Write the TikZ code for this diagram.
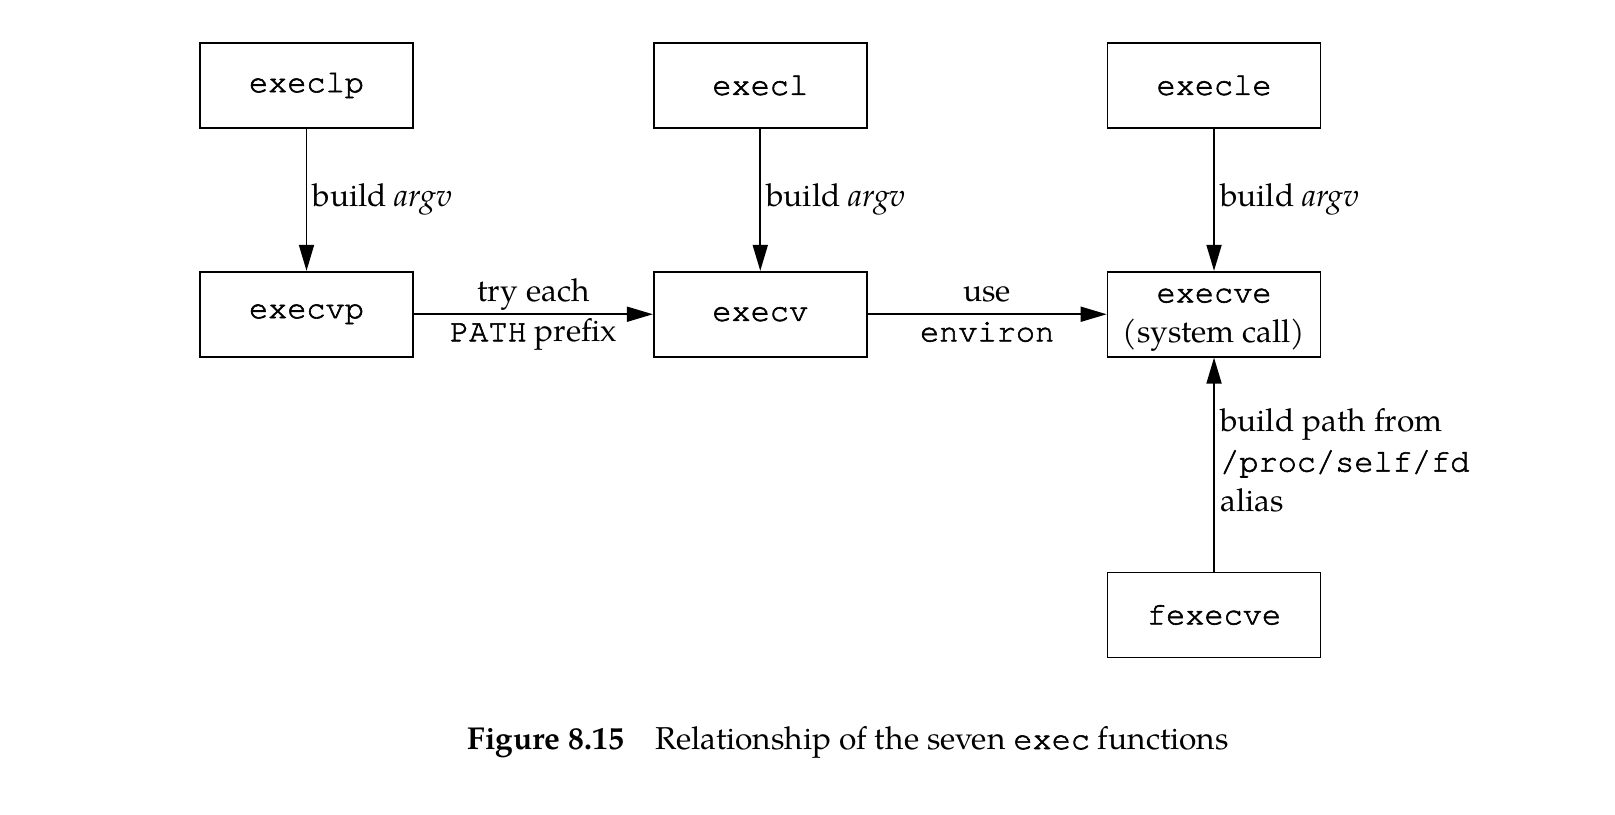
\documentclass[tikz,border=0pt]{standalone}
\usepackage{fontspec}
\setmainfont{texgyrepagella}[Extension=.otf, UprightFont=*-regular, BoldFont=*-bold, ItalicFont=*-italic, BoldItalicFont=*-bolditalic]
\setmonofont{texgyrecursor}[Extension=.otf, UprightFont=*-regular, Scale=1.01, FakeBold=1.8]
\usepackage{tikz}
\usetikzlibrary{positioning,arrows.meta}

\tikzset{
    fn/.style={draw, line width=0.5pt, minimum width=2.13cm, minimum height=0.85cm, inner sep=0pt, font=\fontsize{9}{11.4}\selectfont\ttfamily},
    conn/.style={-{Triangle[length=2.6mm,width=1.5mm]}, line width=0.5pt},
    lbl/.style={right, inner xsep=1.5pt}
}

\begin{document}
\begin{tikzpicture}[node distance=1cm, font=\fontsize{9}{11.4}\selectfont]
    \useasboundingbox (0,0) rectangle (16.15,8.15);

    \node [fn] (execlp) at (3.065,7.295) {execlp};
    \node [fn, right=2.39cm of execlp] (execl) {execl};
    \node [fn, right=2.39cm of execl] (execle) {execle};
    \node [fn, below=1.42cm of execlp] (execvp) {execvp};
    \node [fn, below=1.42cm of execl] (execv) {execv};
    \node [fn, below=1.42cm of execle, align=center] (execve) {\rule{0pt}{7.2pt}execve\\\rmfamily(system call)};
    \node [fn, below=2.14cm of execve] (fexecve) {fexecve};

    \draw [conn] (execlp) -- node [lbl] {build \textit{argv}} (execvp);
    \draw [conn] (execl) -- node [lbl] {build \textit{argv}} (execv);
    \draw [conn] (execle) -- node [lbl] {build \textit{argv}} (execve);
    \draw [conn] (execvp) -- node [align=center] {try each\\\texttt{PATH} prefix} (execv);
    \draw [conn] (execv) -- node [align=center] {use\\\texttt{environ}} (execve);
    \draw [conn] (fexecve) -- node [lbl, pos=0.52, align=left] {build path from\\\texttt{/proc/self/fd}\\alias} (execve);

    % caption
    \node [font=\fontsize{9}{11}\selectfont] (cap) at (8.48,0.73) {\textbf{Figure 8.15}\quad Relationship of the seven \texttt{exec} functions};
\end{tikzpicture}
\end{document}
